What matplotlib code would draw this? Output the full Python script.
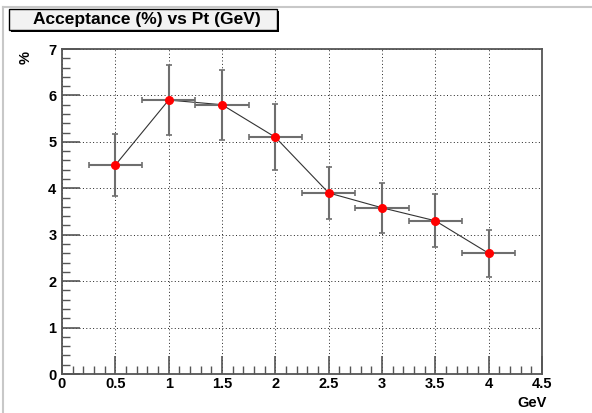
import matplotlib.pyplot as plt
import numpy as np
from matplotlib.ticker import MultipleLocator
from matplotlib.patches import Rectangle

# data
pt = [0.5, 1.0, 1.5, 2.0, 2.5, 3.0, 3.5, 4.0]
acc = [4.5, 5.9, 5.8, 5.1, 3.9, 3.58, 3.3, 2.6]
acc_err = [0.66, 0.75, 0.75, 0.71, 0.56, 0.54, 0.57, 0.5]
pt_err = [0.25, 0.25, 0.25, 0.25, 0.25, 0.25, 0.25, 0.25]

title = "Acceptance (%) vs Pt (GeV)"

plt.rcParams['font.family'] = ['Liberation Sans', 'DejaVu Sans']
plt.rcParams['font.weight'] = 'bold'

fig = plt.figure(figsize=(5.92, 4.13), dpi=100)
ax = fig.add_axes([62 / 592, 1 - 374 / 413, 480 / 592, 325 / 413])

ax.plot(pt, acc, color='#333333', lw=0.8, zorder=2)
ax.errorbar(pt, acc, xerr=pt_err, yerr=acc_err, fmt='none', ecolor='#6e6e6e',
            elinewidth=1.5, capsize=2.5, capthick=1.2, zorder=3)
ax.plot(pt, acc, 'o', color='red', ms=5.5, mec='red', zorder=4)

ax.set_xlim(0, 4.5)
ax.set_ylim(0, 7)
ax.xaxis.set_major_locator(MultipleLocator(0.5))
ax.xaxis.set_minor_locator(MultipleLocator(0.1))
ax.yaxis.set_major_locator(MultipleLocator(1))
ax.yaxis.set_minor_locator(MultipleLocator(0.2))
ax.xaxis.set_major_formatter(plt.FuncFormatter(lambda v, p: ('%g' % v)))
ax.yaxis.set_major_formatter(plt.FuncFormatter(lambda v, p: ('%g' % v)))

ax.tick_params(which='both', direction='in', color='#555555', labelsize=10.5)
ax.tick_params(which='major', length=13, width=1.2)
ax.tick_params(which='minor', length=6, width=1)
ax.tick_params(axis='x', pad=2)
ax.tick_params(axis='y', pad=4)
ax.grid(True, which='major', color='#222222', linestyle=(0, (1, 2.5)), lw=0.7)

for s in ax.spines.values():
    s.set_color('#555555')
    s.set_linewidth(1.3)

ax.text(-0.075, 0.995, '%', transform=ax.transAxes, rotation=90, fontsize=10.5,
        fontweight='bold', ha='center', va='top')
ax.text(1.01, -0.068, 'GeV', transform=ax.transAxes, fontsize=10.5,
        fontweight='bold', ha='right', va='top')

# canvas border lines
fig.add_artist(plt.Line2D([3 / 592, 3 / 592], [0, 1 - 7 / 413], color='#c8c8c8', lw=1.5,
                          transform=fig.transFigure))
fig.add_artist(plt.Line2D([3 / 592, 1], [1 - 7 / 413, 1 - 7 / 413], color='#c8c8c8', lw=1.5,
                          transform=fig.transFigure))

# title box with shadow
bx0, by0, bw, bh = 9 / 592, 1 - 30 / 413, 268 / 592, 21 / 413
fig.add_artist(Rectangle((bx0 + 2 / 592, by0 - 2 / 413), bw, bh, transform=fig.transFigure,
                         facecolor='black', edgecolor='black', lw=0))
fig.add_artist(Rectangle((bx0, by0), bw, bh, transform=fig.transFigure,
                         facecolor='#f2f2f2', edgecolor='black', lw=1))
fig.text(bx0 + bw / 2 + 4 / 592, by0 + bh / 2, title, fontsize=12.5, fontweight='bold',
         ha='center', va='center')

fig.savefig('out.png', dpi=100)
